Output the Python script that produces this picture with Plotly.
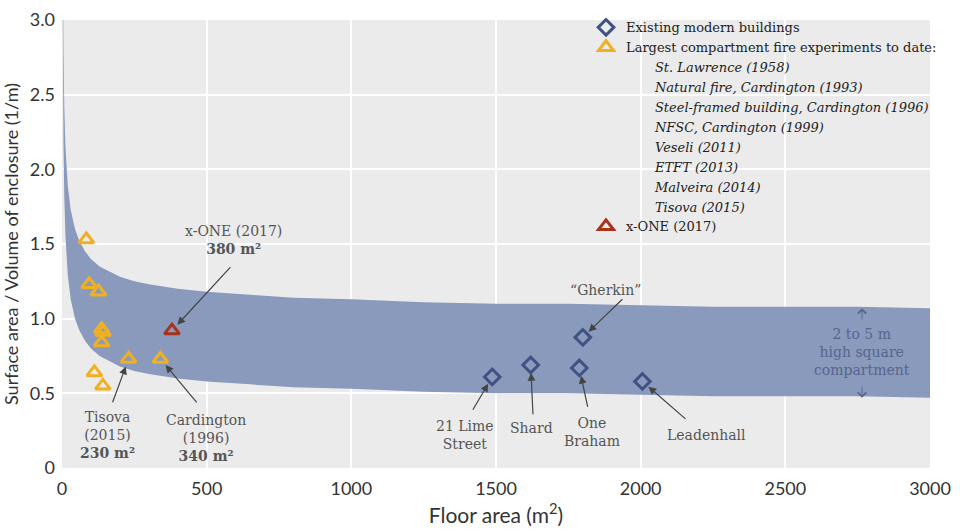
import plotly.graph_objects as go

# Envelope of a square compartment, 2 m high (upper) to 5 m high (lower)
band_area = [2, 3, 5, 8, 12, 20, 30, 45, 60, 80, 100, 130, 160, 200, 250, 300, 400,
             500, 650, 800, 1000, 1250, 1500, 1750, 2000, 2250, 2500, 2750, 3000]
band_upper = [3.83, 3.31, 2.79, 2.41, 2.15, 1.89, 1.73, 1.60, 1.52, 1.45, 1.40, 1.35, 1.32,
              1.28, 1.25, 1.23, 1.20, 1.18, 1.16, 1.14, 1.13, 1.11, 1.10, 1.10, 1.09, 1.08,
              1.08, 1.08, 1.07]
band_lower = [3.23, 2.71, 2.19, 1.81, 1.55, 1.29, 1.13, 1.00, 0.92, 0.85, 0.80, 0.75, 0.72,
              0.68, 0.65, 0.63, 0.60, 0.58, 0.56, 0.54, 0.53, 0.51, 0.50, 0.50, 0.49, 0.48,
              0.48, 0.48, 0.47]

# Existing modern buildings
building_names = ["21 Lime<br>Street", "Shard", "One<br>Braham", "\u201cGherkin\u201d", "Leadenhall"]
building_area = [1487, 1620, 1788, 1800, 2006]
building_ratio = [0.61, 0.69, 0.67, 0.875, 0.58]

# Largest compartment fire experiments
exp_area = [84, 94, 126, 137, 142, 137, 112, 141, 230, 340]
exp_ratio = [1.53, 1.23, 1.18, 0.93, 0.91, 0.84, 0.64, 0.55, 0.73, 0.73]

xone_area = [380]
xone_ratio = [0.92]

experiment_list = ["St. Lawrence (1958)", "Natural fire, Cardington (1993)",
                   "Steel-framed building, Cardington (1996)", "NFSC, Cardington (1999)",
                   "Veseli (2011)", "ETFT (2013)", "Malveira (2014)", "Tisova (2015)"]

x_ticks = [0, 500, 1000, 1500, 2000, 2500, 3000]
y_ticks = [0, 0.5, 1.0, 1.5, 2.0, 2.5, 3.0]
y_ticktext = ["0", "0.5", "1.0", "1.5", "2.0", "2.5", "3.0"]

BLUE = "#3f5283"
ORANGE = "#f0b020"
RED = "#a8321a"
BAND = "#8a9abd"
TXT = "#555555"
SERIF = "DejaVu Serif"
SANS = "Lato"

fig = go.Figure()

fig.add_trace(go.Scatter(x=band_area, y=band_lower, mode="lines", line=dict(width=0),
                         showlegend=False, hoverinfo="skip"))
fig.add_trace(go.Scatter(x=band_area, y=band_upper, mode="lines", line=dict(width=0),
                         fill="tonexty", fillcolor=BAND, showlegend=False, hoverinfo="skip"))

fig.add_trace(go.Scatter(x=building_area, y=building_ratio, mode="markers",
                         name="Existing modern buildings",
                         marker=dict(symbol="diamond-open", size=12, color=BLUE,
                                     line=dict(width=3, color=BLUE))))
fig.add_trace(go.Scatter(x=exp_area, y=exp_ratio, mode="markers",
                         name="Largest compartment fire experiments to date:",
                         marker=dict(symbol="triangle-up-open", size=13, color=ORANGE,
                                     line=dict(width=3, color=ORANGE))))
for name in experiment_list:
    fig.add_trace(go.Scatter(x=[None], y=[None], mode="markers",
                             name="&nbsp;" * 7 + "<i>" + name + "</i>",
                             marker=dict(size=1, color="rgba(0,0,0,0)"),
                             showlegend=True, hoverinfo="skip"))
fig.add_trace(go.Scatter(x=xone_area, y=xone_ratio, mode="markers",
                         name="x-ONE (2017)",
                         marker=dict(symbol="triangle-up-open", size=13, color=RED,
                                     line=dict(width=3, color=RED))))

annotations = []


def arrow(hx, hy, tx, ty, head=2, stand=8):
    annotations.append(dict(x=hx, y=hy, ax=tx, ay=ty, xref="x", yref="y", axref="x",
                            ayref="y", text="", showarrow=True, arrowhead=head,
                            arrowsize=1.3, arrowwidth=1.2, arrowcolor="#444444",
                            standoff=stand))


def label(x, y, text, color=TXT, size=14):
    annotations.append(dict(x=x, y=y, xref="x", yref="y", text=text, showarrow=False,
                            font=dict(family=SERIF, size=size, color=color),
                            align="center"))


# Experiment callouts
arrow(xone_area[0], xone_ratio[0], 587, 1.355)
label(591, 1.53, "x-ONE (2017)<br><b>380 m\u00b2</b>")
arrow(exp_area[8], exp_ratio[8], 173, 0.43)
label(156, 0.22, "Tisova<br>(2015)<br><b>230 m\u00b2</b>")
arrow(exp_area[9], exp_ratio[9], 470, 0.43)
label(498, 0.20, "Cardington<br>(1996)<br><b>340 m\u00b2</b>")

# Building callouts
tails = [(1417, 0.38), (1628, 0.35), (1818, 0.40), (1942, 1.14), (2160, 0.32)]
label_pos = [(1393, 0.22), (1624, 0.27), (1832, 0.24), (1877, 1.19), (2226, 0.22)]
for i in range(len(building_names)):
    arrow(building_area[i], building_ratio[i], tails[i][0], tails[i][1])
    label(label_pos[i][0], label_pos[i][1], building_names[i])

# Band description with arrows to both bounding curves
DESC = "#56658e"
label(2765, 0.78, "2 to 5 m<br>high square<br>compartment", color=DESC, size=14)
for tip, tail in ((band_upper[-1], 0.985), (band_lower[-1], 0.555)):
    annotations.append(dict(x=2765, y=tip, ax=2765, ay=tail, xref="x", yref="y",
                            axref="x", ayref="y", text="", showarrow=True, arrowhead=4,
                            arrowsize=1.8, arrowwidth=0.9, arrowcolor=DESC, standoff=0))

fig.update_layout(
    width=960, height=532,
    margin=dict(l=62, r=30, t=12, b=64),
    paper_bgcolor="white",
    plot_bgcolor="#ebebeb",
    font=dict(family=SANS, color="#333333"),
    showlegend=True,
    legend=dict(x=0.6037, y=1.017, xanchor="left", yanchor="top",
                bgcolor="rgba(0,0,0,0)", borderwidth=0, traceorder="normal",
                font=dict(family=SERIF, size=13, color="#222222")),
    annotations=annotations,
    xaxis=dict(range=[0, 3000], tickvals=x_ticks, showgrid=True, gridcolor="white",
               gridwidth=1.5, zeroline=False, showline=False, ticks="",
               ticklabelstandoff=8, automargin=False,
               tickfont=dict(family=SANS, size=18, color="#333333"),
               title=dict(text="Floor area (m<sup>2</sup>)", standoff=4,
                          font=dict(family=SANS, size=21, color="#333333"))),
    yaxis=dict(range=[0, 3], tickvals=y_ticks, ticktext=y_ticktext, showgrid=True,
               gridcolor="white", gridwidth=1.5, zeroline=False, showline=False, ticks="",
               ticklabelstandoff=6, automargin=False,
               tickfont=dict(family=SANS, size=18, color="#333333"),
               title=dict(text="Surface area / Volume of enclosure (1/m)", standoff=8,
                          font=dict(family=SANS, size=18, color="#333333"))),
)

fig.write_html("out.html")
